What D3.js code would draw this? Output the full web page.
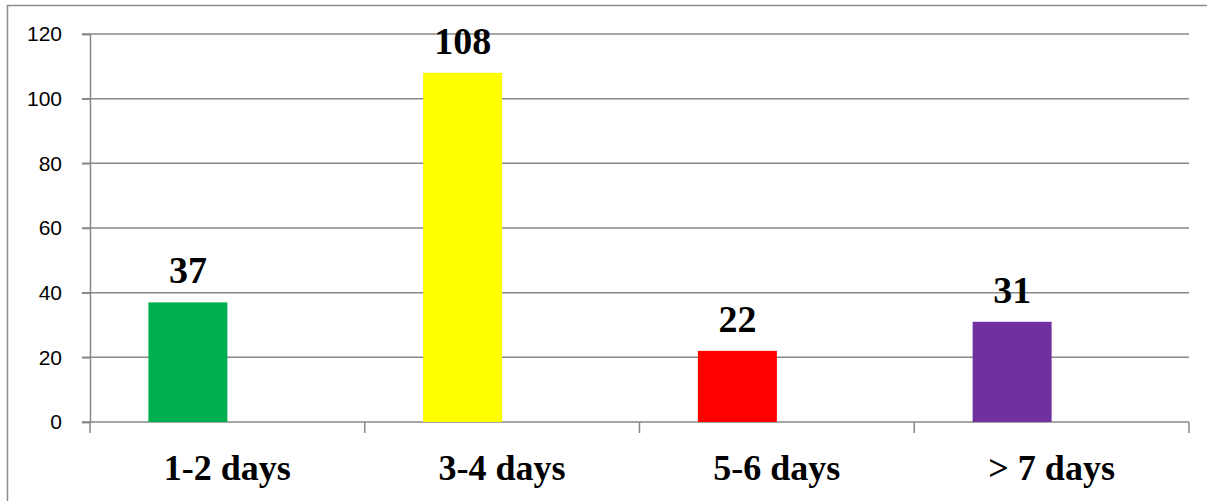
<!DOCTYPE html>
<html>
<head>
<meta charset="utf-8">
<script src="https://cdn.jsdelivr.net/npm/d3@7"></script>
<style>
    body { margin: 0; background: #fff; }
    svg { display: block; }
</style>
</head>
<body>
<div id="chart"></div>
<script>
// categories and values
var categories = ['1-2 days', '3-4 days', '5-6 days', '> 7 days'];
var values = [37, 108, 22, 31];
var barColors = ['#00B050', '#FFFF00', '#FF0000', '#7030A0'];
var yTicks = [0, 20, 40, 60, 80, 100, 120];

var width = 1207,
    height = 501;

var margin = {top: 34, right: 18, bottom: 79, left: 90};

var svg = d3.select('#chart').append('svg')
    .attr('width', width)
    .attr('height', height);

// outer chart border (clipped at right and bottom like the source)
svg.append('rect')
    .attr('x', 7.5)
    .attr('y', 5.5)
    .attr('width', 1220)
    .attr('height', 520)
    .attr('fill', 'none')
    .attr('stroke', '#8c8c8c')
    .attr('stroke-width', 1.5);

var x = d3.scaleBand()
    .domain(categories)
    .range([margin.left, width - margin.right]);

var y = d3.scaleLinear()
    .domain([0, 120])
    .range([height - margin.bottom, margin.top]);

// gridlines
svg.append('g')
    .selectAll('line')
    .data(yTicks)
    .enter().append('line')
        .attr('x1', margin.left - 8)
        .attr('x2', width - margin.right)
        .attr('y1', function(d){ return y(d); })
        .attr('y2', function(d){ return y(d); })
        .attr('stroke', '#888')
        .attr('stroke-width', 1.5);

// y axis
var yAxis = svg.append('g')
    .attr('transform', 'translate(' + margin.left + ',0)')
    .call(d3.axisLeft(y).tickValues(yTicks).tickSize(8).tickPadding(20));
yAxis.select('.domain').attr('stroke', '#888').attr('stroke-width', 1.5);
yAxis.selectAll('.tick line').attr('stroke', '#888').attr('stroke-width', 1.5);
yAxis.selectAll('text')
    .attr('font-family', 'Liberation Sans, Arial, sans-serif')
    .attr('font-size', 21)
    .attr('fill', '#000');

// x axis with ticks between categories
var bandEdges = categories.map(function(c){ return x(c); }).concat([x.range()[1]]);
svg.append('g')
    .selectAll('line')
    .data(bandEdges)
    .enter().append('line')
        .attr('x1', function(d){ return d; })
        .attr('x2', function(d){ return d; })
        .attr('y1', y(0))
        .attr('y2', y(0) + 11)
        .attr('stroke', '#888')
        .attr('stroke-width', 1.5);

// bars: first of two clustered slots (second series is empty)
var barW = x.bandwidth() * 0.2875;
var barOffset = (x.bandwidth() - 2 * barW) / 2;

svg.append('g')
    .selectAll('rect')
    .data(values)
    .enter().append('rect')
        .attr('x', function(d, i){ return x(categories[i]) + barOffset; })
        .attr('y', function(d){ return y(d); })
        .attr('width', barW)
        .attr('height', function(d){ return y(0) - y(d); })
        .attr('fill', function(d, i){ return barColors[i]; });

// value labels
svg.append('g')
    .selectAll('text')
    .data(values)
    .enter().append('text')
        .attr('x', function(d, i){ return x(categories[i]) + barOffset + barW / 2; })
        .attr('y', function(d){ return y(d) - 19; })
        .attr('text-anchor', 'middle')
        .attr('font-family', 'Liberation Serif, Times New Roman, serif')
        .attr('font-weight', 'bold')
        .attr('font-size', 38)
        .text(function(d){ return d; });

// category labels
svg.append('g')
    .selectAll('text')
    .data(categories)
    .enter().append('text')
        .attr('x', function(d){ return x(d) + x.bandwidth() / 2; })
        .attr('y', 480)
        .attr('text-anchor', 'middle')
        .attr('font-family', 'Liberation Serif, Times New Roman, serif')
        .attr('font-weight', 'bold')
        .attr('font-size', 36)
        .text(function(d){ return d; });
</script>
</body>
</html>
